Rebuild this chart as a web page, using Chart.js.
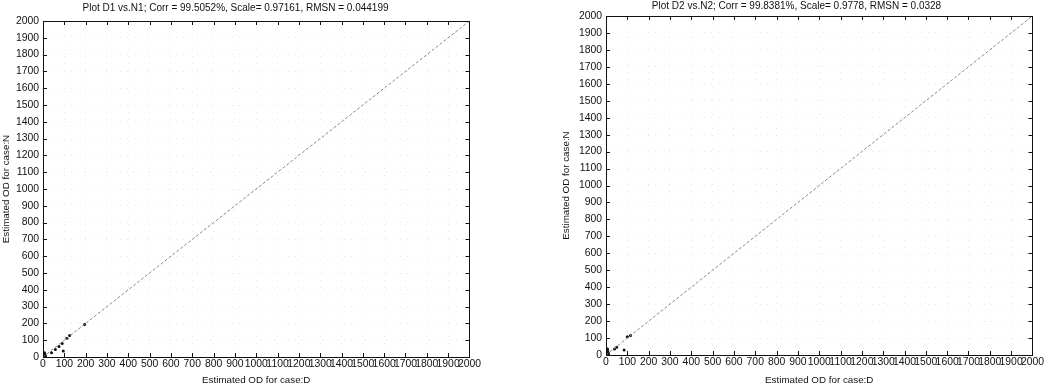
<!DOCTYPE html>
<html>
<head>
<meta charset="utf-8">
<script src="https://cdn.jsdelivr.net/npm/chart.js@4/dist/chart.umd.min.js"></script>
<style>
  body { margin: 0; background: #fff; width: 1045px; height: 386px; position: relative; overflow: hidden; }
  .box { position: absolute; top: 0; height: 386px; }
</style>
</head>
<body>
<div class="box" style="left:0;width:482px"><canvas id="c1"></canvas></div>
<div class="box" style="left:560px;width:485px"><canvas id="c2"></canvas></div>
<script>
// tick values shared by both axes
const ticksOD = [0, 100, 200, 300, 400, 500, 600, 700, 800, 900, 1000,
                 1100, 1200, 1300, 1400, 1500, 1600, 1700, 1800, 1900, 2000];

const title1 = 'Plot D1 vs.N1; Corr = 99.5052%, Scale= 0.97161, RMSN = 0.044199';
const title2 = 'Plot D2 vs.N2; Corr = 99.8381%, Scale= 0.9778, RMSN = 0.0328';
const xTitle = 'Estimated OD for case:D';
const yTitle = 'Estimated OD for case:N';

// fitted diagonal
const diagX = [0, 2000];
const diagY = [0, 2000];

// D1 vs N1 points
const d1 = [2, 4, 6, 8, 3, 5, 10, 1, 7, 12, 40, 58, 75, 90, 112, 125, 195, 95];
const n1 = [5, 10, 15, 20, 2, 8, 12, 18, 26, 4, 25, 45, 62, 80, 112, 128, 193, 35];

// D2 vs N2 points
const d2 = [2, 4, 6, 8, 3, 5, 10, 1, 3, 7, 12, 40, 50, 100, 115, 85];
const n2 = [5, 12, 18, 25, 2, 8, 15, 30, 22, 36, 6, 35, 45, 108, 115, 30];

const toXY = (xs, ys) => xs.map((v, i) => ({ x: v, y: ys[i] }));
const FONT = 'Liberation Sans, Arial';

// black box round the plot with inward ticks on all four sides
const frame = {
  id: 'frame',
  afterDraw(chart) {
    const { ctx, chartArea: a, scales: { x, y } } = chart;
    ctx.save();
    ctx.strokeStyle = '#111';
    ctx.lineWidth = 1;
    ctx.strokeRect(Math.round(a.left) + 0.5, Math.round(a.top) + 0.5,
                   Math.round(a.width), Math.round(a.height));
    ctx.beginPath();
    x.ticks.forEach(t => {
      const px = Math.round(x.getPixelForValue(t.value)) + 0.5;
      ctx.moveTo(px, a.bottom); ctx.lineTo(px, a.bottom - 4);
      ctx.moveTo(px, a.top); ctx.lineTo(px, a.top + 4);
    });
    y.ticks.forEach(t => {
      const py = Math.round(y.getPixelForValue(t.value)) + 0.5;
      ctx.moveTo(a.left, py); ctx.lineTo(a.left + 4, py);
      ctx.moveTo(a.right, py); ctx.lineTo(a.right - 4, py);
    });
    ctx.stroke();
    ctx.restore();
  }
};

function axis(text, g, horizontal) {
  return {
    type: 'linear', min: 0, max: 2000,
    afterBuildTicks: s => { s.ticks = ticksOD.map(v => ({ value: v })); },
    afterFit: s => { if (horizontal) s.height = g.xh; else s.width = g.yw; },
    ticks: {
      autoSkip: false, maxRotation: 0, padding: horizontal ? 1 : 4, color: '#111',
      font: { family: FONT, size: 10.4 },
      callback: v => String(v)
    },
    grid: { color: '#e8e8e8', drawTicks: false },
    border: { display: false, dash: [1, 6] },
    title: {
      display: true, text, color: '#111',
      padding: horizontal ? { top: -2, bottom: 0 } : 0,
      font: { family: FONT, size: 9.8 }
    }
  };
}

function makeChart(id, title, xs, ys, g) {
  new Chart(document.getElementById(id), {
    type: 'scatter',
    data: {
      datasets: [{
        data: toXY(diagX, diagY),
        showLine: true,
        borderColor: '#888',
        borderWidth: 1,
        borderDash: [3, 2],
        pointRadius: 0
      }, {
        data: toXY(xs, ys),
        backgroundColor: '#111',
        borderColor: '#111',
        borderWidth: 0,
        pointRadius: 1.5
      }]
    },
    options: {
      responsive: true,
      maintainAspectRatio: false,
      animation: false,
      layout: { padding: { right: g.right, left: 0, bottom: 0, top: 0 } },
      plugins: {
        legend: { display: false },
        tooltip: { enabled: false },
        title: {
          display: true,
          text: title,
          color: '#111',
          font: { family: FONT, size: 10, weight: 'normal' },
          padding: { top: g.titleTop, bottom: g.titleBottom }
        }
      },
      scales: {
        x: axis(xTitle, g, true),
        y: axis(yTitle, g, false)
      }
    },
    plugins: [frame]
  });
}

makeChart('c1', title1, d1, n1, { right: 11, titleTop: 2, titleBottom: 7, xh: 29, yw: 43 });
makeChart('c2', title2, d2, n2, { right: 12, titleTop: 0, titleBottom: 4, xh: 31, yw: 46 });
</script>
</body>
</html>
